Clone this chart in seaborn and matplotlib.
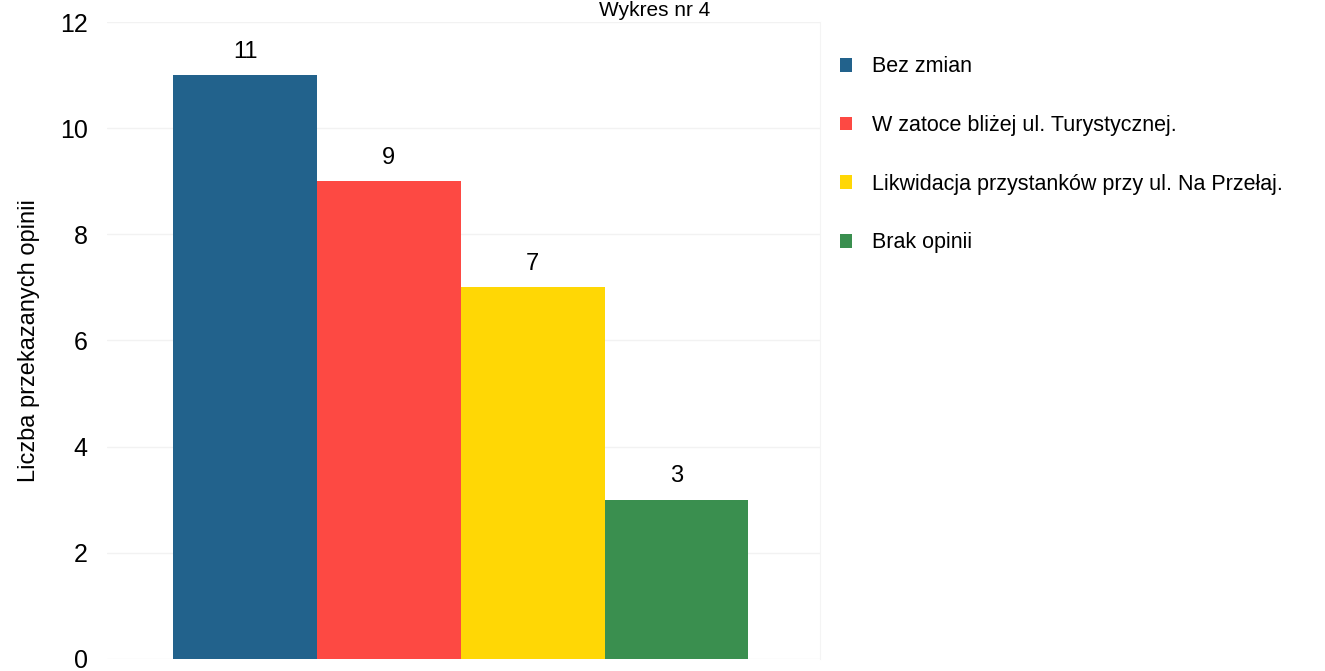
import matplotlib
matplotlib.use('Agg')
import matplotlib.pyplot as plt
import seaborn as sns
import pandas as pd

# Data
categories = ['Bez zmian', 'W zatoce bliżej ul. Turystycznej.',
              'Likwidacja przystanków przy ul. Na Przełaj.', 'Brak opinii']
counts = [11, 9, 7, 3]
colors = ['#22628C', '#FD4943', '#FFD705', '#3A8F4F']

df = pd.DataFrame({'opinia': categories, 'liczba': counts})

sns.set_style("white")
plt.rcParams['font.family'] = ['Liberation Sans', 'DejaVu Sans']
plt.rcParams['text.color'] = 'black'

fig = plt.figure(figsize=(13.25, 6.71), dpi=100)
ax = fig.add_axes([0.0808, 0.0179, 0.5383, 0.9493])

sns.barplot(data=df, x='opinia', y='liczba', hue='opinia', palette=colors,
            width=1.0, dodge=False, saturation=1, legend=True,
            linewidth=0, ax=ax)

ax.set_xlim(-0.96, 4.0)
ax.set_ylim(0, 12)
ax.set_yticks(range(0, 13, 2))
ax.set_xticks([])
ax.set_xlabel('')
ax.set_ylabel('Liczba przekazanych opinii', fontsize=17, labelpad=14,
              color='black')
ax.tick_params(axis='y', labelsize=18, pad=14, length=0, labelcolor='black')
ax.grid(axis='y', color='#f2f2f2', linewidth=1)
ax.set_axisbelow(True)
for side in ['top', 'left', 'bottom']:
    ax.spines[side].set_visible(False)
ax.spines['right'].set_color('#f4f4f4')

# value labels above the bars
for container in ax.containers:
    ax.bar_label(container, padding=9, fontsize=17, color='black')

# legend on the right
handles, labels = ax.get_legend_handles_labels()
leg = ax.legend(handles, labels, loc='upper left', bbox_to_anchor=(0.619, 0.945),
                bbox_transform=fig.transFigure, frameon=False, fontsize=15.5,
                handlelength=0.6, handleheight=0.6, handletextpad=0.9,
                labelspacing=1.75)
for t in leg.get_texts():
    t.set_color('black')

# chart title at the top edge
fig.text(0.494, 0.999, 'Wykres nr 4', ha='center', va='top', fontsize=15)

fig.savefig('out.png', dpi=100)
plt.close()
